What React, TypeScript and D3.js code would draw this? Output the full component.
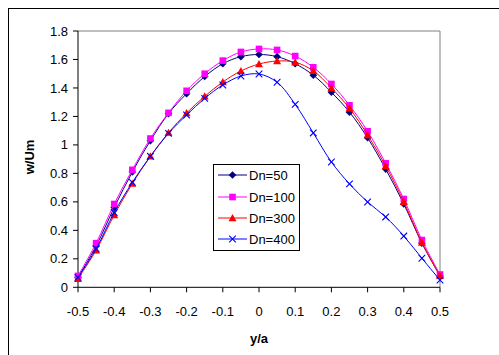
import React from "react";
import * as d3 from "d3";

const xValues = [-0.5, -0.45, -0.4, -0.35, -0.3, -0.25, -0.2, -0.15, -0.1, -0.05, 0, 0.05, 0.1, 0.15, 0.2, 0.25, 0.3, 0.35, 0.4, 0.45, 0.5];
const dn50 = [0.07, 0.29, 0.56, 0.81, 1.03, 1.22, 1.36, 1.48, 1.57, 1.62, 1.635, 1.62, 1.57, 1.49, 1.37, 1.23, 1.05, 0.83, 0.585, 0.31, 0.08];
const dn100 = [0.08, 0.31, 0.585, 0.825, 1.045, 1.225, 1.38, 1.5, 1.592, 1.653, 1.674, 1.667, 1.624, 1.545, 1.428, 1.278, 1.096, 0.871, 0.62, 0.332, 0.09];
const dn300 = [0.06, 0.26, 0.508, 0.728, 0.92, 1.086, 1.224, 1.341, 1.442, 1.519, 1.568, 1.589, 1.581, 1.52, 1.4, 1.257, 1.07, 0.852, 0.6, 0.314, 0.08];
const dn400 = [0.07, 0.27, 0.525, 0.737, 0.92, 1.081, 1.21, 1.327, 1.421, 1.484, 1.498, 1.44, 1.285, 1.084, 0.88, 0.726, 0.599, 0.494, 0.36, 0.204, 0.05];
const seriesNames = ["Dn=50", "Dn=100", "Dn=300", "Dn=400"];
const xTicks = [-0.5, -0.4, -0.3, -0.2, -0.1, 0, 0.1, 0.2, 0.3, 0.4, 0.5];
const yTicks = [0, 0.2, 0.4, 0.6, 0.8, 1, 1.2, 1.4, 1.6, 1.8];

const colors = ["#000080", "#FF00FF", "#FF0000", "#0000FF"];
const markers = ["diamond", "square", "triangle", "x"];

const FONT = "Liberation Sans, Arial, sans-serif";

function Marker({ type, x, y, color }: { type: string; x: number; y: number; color: string }) {
  if (type === "diamond") {
    const r = 3.8;
    return <path d={`M${x},${y - r}L${x + r},${y}L${x},${y + r}L${x - r},${y}Z`} fill={color} />;
  }
  if (type === "square") {
    const r = 3.3;
    return <rect x={x - r} y={y - r} width={2 * r} height={2 * r} fill={color} />;
  }
  if (type === "triangle") {
    const r = 4;
    return <path d={`M${x},${y - r}L${x + r},${y + r * 0.8}L${x - r},${y + r * 0.8}Z`} fill={color} />;
  }
  const r = 3.3;
  return (
    <path d={`M${x - r},${y - r}L${x + r},${y + r}M${x - r},${y + r}L${x + r},${y - r}`} stroke={color} strokeWidth={1.1} fill="none" />
  );
}

export default function App() {
  const W = 499, H = 355;
  const left = 78, right = 440, top = 31, bottom = 287.3;
  const x = d3.scaleLinear().domain([-0.5, 0.5]).range([left, right]);
  const y = d3.scaleLinear().domain([0, 1.8]).range([bottom, top]);
  const all = [dn50, dn100, dn300, dn400];
  const line = d3
    .line<number>()
    .x((_, i) => x(xValues[i]))
    .y((d) => y(d))
    .curve(d3.curveCatmullRom.alpha(0.5));

  const legX = 213, legY = 164, legW = 86, legH = 86;
  const legRows = [175, 197, 218, 239];

  return (
    <svg width={W} height={H} style={{ position: "absolute", left: 0, top: 0 }} fontFamily={FONT}>
      <rect x={0} y={0} width={W} height={H} fill="#fff" />
      <rect x={8.5} y={8.5} width={W + 10} height={H + 10} fill="none" stroke="#000" strokeWidth={1} />
      {/* plot area border */}
      <path d={`M${left},${top}H${right}V${bottom}`} fill="none" stroke="#808080" strokeWidth={1} />
      {/* axes */}
      <line x1={left} y1={top} x2={left} y2={bottom} stroke="#000" strokeWidth={1} />
      <line x1={left} y1={bottom} x2={right} y2={bottom} stroke="#000" strokeWidth={1} />
      {yTicks.map((t) => (
        <g key={"y" + t}>
          <line x1={left - 5} x2={left} y1={y(t)} y2={y(t)} stroke="#000" />
          <text x={left - 10} y={y(t)} dy="0.35em" textAnchor="end" fontSize={13}>
            {t === 0 || t === 1 ? String(t) : t.toFixed(1)}
          </text>
        </g>
      ))}
      {xTicks.map((t) => (
        <g key={"x" + t}>
          <line x1={x(t)} x2={x(t)} y1={bottom} y2={bottom + 5} stroke="#000" />
          <text x={x(t)} y={316} textAnchor="middle" fontSize={13}>
            {t === 0 ? "0" : t.toFixed(1)}
          </text>
        </g>
      ))}
      <text x={259} y={343} textAnchor="middle" fontSize={13} fontWeight="bold">
        y/a
      </text>
      <text
        transform={`translate(34,157) rotate(-90)`}
        textAnchor="middle"
        fontSize={13}
        fontWeight="bold"
      >
        w/Um
      </text>
      {all.map((s, si) => (
        <g key={"s" + si}>
          <path d={line(s) || ""} fill="none" stroke={colors[si]} strokeWidth={1} />
          {s.map((v, i) => (
            <Marker key={i} type={markers[si]} x={x(xValues[i])} y={y(v)} color={colors[si]} />
          ))}
        </g>
      ))}
      {/* legend */}
      <rect x={legX + 0.5} y={legY + 0.5} width={legW} height={legH} fill="#fff" stroke="#000" strokeWidth={1} />
      {seriesNames.map((n, i) => (
        <g key={n}>
          <line x1={218} x2={247} y1={legRows[i]} y2={legRows[i]} stroke={colors[i]} strokeWidth={1} />
          <Marker type={markers[i]} x={232.5} y={legRows[i]} color={colors[i]} />
          <text x={249} y={legRows[i]} dy="0.35em" fontSize={13}>
            {n}
          </text>
        </g>
      ))}
    </svg>
  );
}
